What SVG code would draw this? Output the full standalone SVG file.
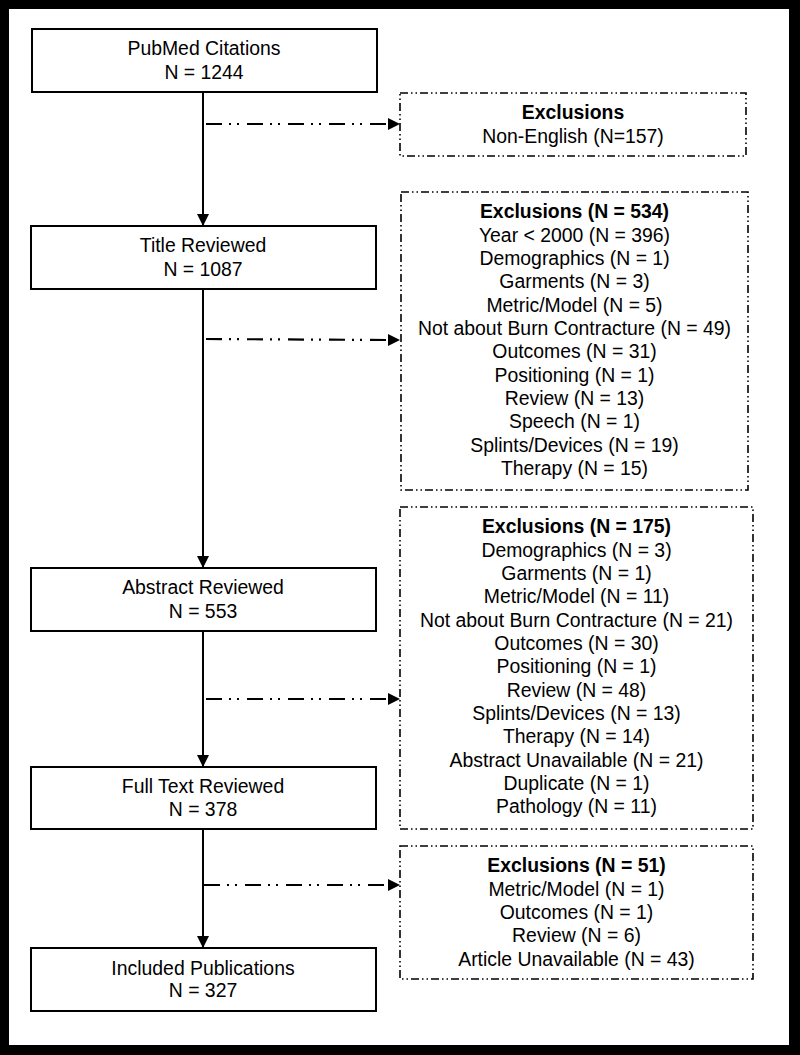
<svg xmlns="http://www.w3.org/2000/svg" width="800" height="1055" viewBox="0 0 800 1055">
<defs>
<style>
.box{fill:#fff;stroke:#000;stroke-width:2}
.exbox{fill:#fff;stroke:#000;stroke-width:1.6;stroke-dasharray:8 3 1.5 3 1.5 3}
.flow{stroke:#000;stroke-width:2;fill:none}
.excl{stroke:#000;stroke-width:2.2;fill:none;stroke-dasharray:16 7 2 6 2 8}
text{font-family:"Liberation Sans",Arial,sans-serif;font-size:19.4px;fill:#000;text-anchor:middle}
.b{font-weight:bold}
</style>
<marker id="ah" viewBox="0 0 12 12" refX="12" refY="6" markerWidth="12" markerHeight="12" markerUnits="userSpaceOnUse" orient="auto">
<path d="M0,0 L12,6 L0,12 Z" fill="#000"/>
</marker>
</defs>
<rect x="0" y="0" width="800" height="1055" fill="#000"/>
<rect x="9" y="9" width="780" height="1036" fill="#fff"/>

<g id="connectors">
<line class="flow" x1="203" y1="92" x2="203" y2="226" marker-end="url(#ah)"/>
<line class="flow" x1="203" y1="289" x2="203" y2="568" marker-end="url(#ah)"/>
<line class="flow" x1="203" y1="631" x2="203" y2="767" marker-end="url(#ah)"/>
<line class="flow" x1="203" y1="829" x2="203" y2="948" marker-end="url(#ah)"/>
<line class="excl" x1="206" y1="124" x2="388" y2="124"/>
<path d="M388,118 L400,124 L388,130 Z" fill="#000"/>
<line class="excl" x1="206" y1="339" x2="388" y2="340"/>
<path d="M388,334 L400,340 L388,346 Z" fill="#000"/>
<line class="excl" x1="206" y1="699" x2="388" y2="699"/>
<path d="M388,693 L400,699 L388,705 Z" fill="#000"/>
<line class="excl" x1="204" y1="885" x2="388" y2="885"/>
<path d="M388,879 L400,885 L388,891 Z" fill="#000"/>
</g>

<g id="pubmed">
<rect class="box" x="32" y="29" width="345" height="63"/>
<text x="204" y="55">PubMed Citations</text>
<text x="204" y="79">N = 1244</text>
</g>
<g id="title">
<rect class="box" x="31" y="226" width="345" height="63"/>
<text x="203" y="252">Title Reviewed</text>
<text x="203" y="276">N = 1087</text>
</g>
<g id="abstract">
<rect class="box" x="31" y="568" width="345" height="63"/>
<text x="203" y="594">Abstract Reviewed</text>
<text x="203" y="618">N = 553</text>
</g>
<g id="fulltext">
<rect class="box" x="31" y="767" width="345" height="62"/>
<text x="203" y="793">Full Text Reviewed</text>
<text x="203" y="816">N = 378</text>
</g>
<g id="included">
<rect class="box" x="31" y="948" width="345" height="63"/>
<text x="203" y="975">Included Publications</text>
<text x="203" y="997">N = 327</text>
</g>

<g id="excl1">
<rect class="exbox" x="400" y="93" width="346" height="63"/>
<text class="b" x="573" y="119">Exclusions</text>
<text x="573" y="143">Non-English (N=157)</text>
</g>
<g id="excl2">
<rect class="exbox" x="401" y="192" width="347" height="298"/>
<text class="b" x="574.5" y="218.3">Exclusions (N = 534)</text>
<text x="574.5" y="241.7">Year &lt; 2000 (N = 396)</text>
<text x="574.5" y="265">Demographics (N = 1)</text>
<text x="574.5" y="288.3">Garments (N = 3)</text>
<text x="574.5" y="311.7">Metric/Model (N = 5)</text>
<text x="574.5" y="335">Not about Burn Contracture (N = 49)</text>
<text x="574.5" y="358.3">Outcomes (N = 31)</text>
<text x="574.5" y="381.7">Positioning (N = 1)</text>
<text x="574.5" y="405">Review (N = 13)</text>
<text x="574.5" y="428.3">Speech (N = 1)</text>
<text x="574.5" y="451.7">Splints/Devices (N = 19)</text>
<text x="574.5" y="475">Therapy (N = 15)</text>
</g>
<g id="excl3">
<rect class="exbox" x="400" y="507" width="353" height="322"/>
<text class="b" x="576.5" y="533.3">Exclusions (N = 175)</text>
<text x="576.5" y="556.7">Demographics (N = 3)</text>
<text x="576.5" y="580">Garments (N = 1)</text>
<text x="576.5" y="603.3">Metric/Model (N = 11)</text>
<text x="576.5" y="626.7">Not about Burn Contracture (N = 21)</text>
<text x="576.5" y="650">Outcomes (N = 30)</text>
<text x="576.5" y="673.3">Positioning (N = 1)</text>
<text x="576.5" y="696.7">Review (N = 48)</text>
<text x="576.5" y="720">Splints/Devices (N = 13)</text>
<text x="576.5" y="743.3">Therapy (N = 14)</text>
<text x="576.5" y="766.7">Abstract Unavailable (N = 21)</text>
<text x="576.5" y="790">Duplicate (N = 1)</text>
<text x="576.5" y="813.3">Pathology (N = 11)</text>
</g>
<g id="excl4">
<rect class="exbox" x="400" y="846" width="353" height="133"/>
<text class="b" x="576.5" y="872.3">Exclusions (N = 51)</text>
<text x="576.5" y="895.7">Metric/Model (N = 1)</text>
<text x="576.5" y="919">Outcomes (N = 1)</text>
<text x="576.5" y="942.3">Review (N = 6)</text>
<text x="576.5" y="965.7">Article Unavailable (N = 43)</text>
</g>
</svg>
